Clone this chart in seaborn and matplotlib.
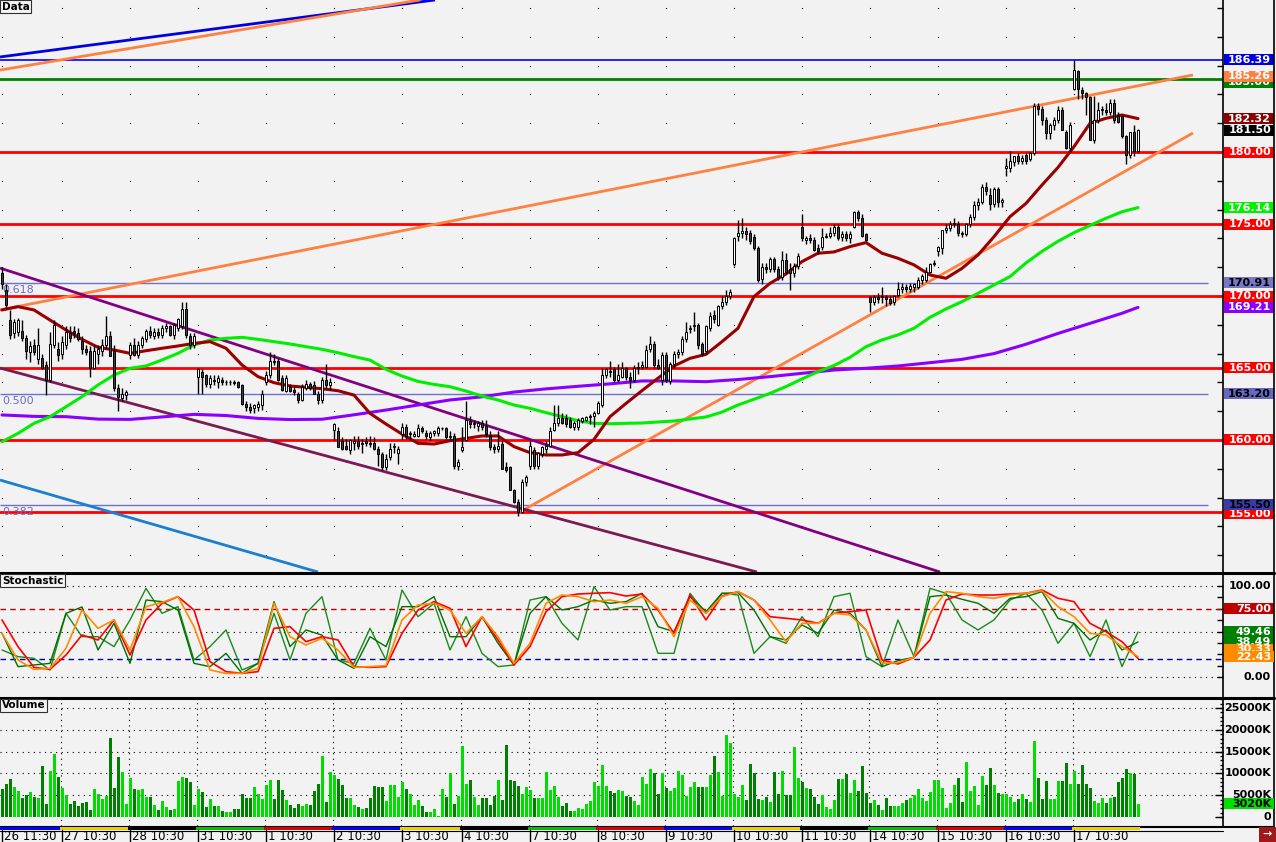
import numpy as np
import pandas as pd
import matplotlib
matplotlib.use("Agg")
import matplotlib.pyplot as plt
import seaborn as sns
from matplotlib.patches import Rectangle
from matplotlib.lines import Line2D

# ---------------- data ----------------
day_labels = ["26 11:30", "27 10:30", "28 10:30", "31 10:30", "1 10:30", "2 10:30", "3 10:30",
              "4 10:30", "7 10:30", "8 10:30", "9 10:30", "10 10:30", "11 10:30", "14 10:30",
              "15 10:30", "16 10:30", "17 10:30"]
day_start = [0, 15, 32, 49, 66, 83, 100, 115, 132, 149, 166, 183, 200, 217, 234, 251, 268]
day_colors = ["#0000ff", "#e8d000", "#000000", "#00c000", "#e00000", "#0000ff", "#e8d000",
              "#000000", "#00c000", "#e00000", "#0000ff", "#e8d000", "#000000", "#00c000",
              "#e00000", "#0000ff", "#e8d000"]

open_ = [
    171.6,170.4,168.3,167.4,167.5,167.6,167.1,166.1,166.6,165.6,165.7,165.2,164.2,166.6,166.3,
    166.0,166.6,167.4,167.6,167.4,166.9,166.3,166.2,165.0,166.0,166.2,166.6,167.2,166.2,163.6,162.9,163.1,
    165.9,166.6,165.9,166.6,167.0,167.6,167.2,167.5,167.3,167.8,167.9,167.3,167.8,167.9,169.1,167.2,166.6,
    164.4,164.7,164.5,163.9,164.2,164.0,164.2,164.0,164.0,164.0,164.05,163.8,162.5,162.3,162.2,162.3,162.4,
    164.0,164.5,165.5,165.5,164.3,163.4,163.7,163.5,163.2,162.8,163.6,163.9,163.8,163.2,162.8,164.2,163.8,
    160.7,160.6,159.9,159.6,159.3,159.8,159.9,159.7,159.9,159.8,159.8,159.4,159.0,158.1,158.8,159.5,159.1,
    160.4,160.9,160.4,160.3,160.3,160.8,160.5,160.2,160.5,160.5,160.8,160.8,160.2,160.3,158.2,
    159.3,160.0,161.3,161.1,161.0,161.2,161.0,160.3,159.5,159.4,159.7,158.1,158.1,156.5,155.7,155.0,157.1,
    158.2,159.3,158.2,159.0,159.4,159.6,160.7,161.2,161.5,161.5,161.4,160.9,160.9,161.3,161.4,161.6,161.7,
    161.9,162.4,164.5,164.8,164.9,164.2,164.4,165.0,164.4,164.2,165.0,165.1,165.1,166.3,166.7,165.2,164.2,
    165.9,164.1,165.3,166.0,166.1,167.0,167.7,167.9,168.0,166.7,166.2,167.8,168.7,168.0,169.3,169.6,170.0,
    172.2,174.2,174.4,174.5,174.4,174.1,173.3,171.2,172.0,171.9,172.6,171.9,171.3,172.5,171.9,171.6,172.1,
    174.8,173.9,174.0,173.9,173.3,173.4,174.1,174.2,174.4,174.8,174.1,174.3,174.0,174.8,175.8,175.4,174.3,
    169.9,169.6,169.9,169.9,169.9,169.8,169.6,170.1,170.5,170.6,170.5,170.6,170.6,171.1,171.1,171.7,172.2,
    173.1,173.3,174.6,174.7,175.0,175.0,174.4,174.3,175.0,175.5,176.3,176.5,177.6,177.0,176.4,177.4,176.5,
    178.9,178.9,179.3,179.7,179.4,179.8,179.5,179.9,183.2,183.0,182.2,181.3,181.9,182.2,182.9,181.4,180.3,
    184.4,185.6,184.3,184.1,183.8,180.8,182.2,182.9,182.9,182.8,183.4,182.5,182.5,181.1,179.8,181.4,180.1]
high = [
    172.0,170.8,169.0,168.4,168.5,168.3,167.3,166.9,167.0,167.8,166.0,165.5,167.5,168.3,166.8,
    167.2,167.9,167.9,167.9,167.8,167.2,166.6,166.5,166.6,166.6,167.0,168.6,167.6,166.6,163.9,163.6,163.5,
    166.8,167.1,166.9,167.2,167.7,167.9,167.8,167.8,168.0,168.1,168.0,168.1,168.5,169.6,169.6,167.4,167.4,
    165.0,164.9,164.6,164.5,164.5,164.5,164.4,164.2,164.2,164.2,164.1,163.9,162.7,162.6,162.5,162.7,163.5,
    164.8,166.1,166.0,165.7,164.5,164.5,163.9,163.7,163.3,163.9,164.2,164.0,164.1,163.4,164.4,165.3,164.3,
    161.2,160.9,160.2,160.1,160.1,160.3,160.3,160.1,160.2,160.3,160.2,159.6,159.2,159.0,159.8,159.8,159.6,
    161.2,161.1,160.6,160.6,161.1,161.0,160.7,160.6,160.7,161.0,160.9,160.9,160.6,160.5,158.7,
    160.9,162.7,161.7,161.4,161.3,161.4,161.4,160.6,159.7,160.6,159.9,158.5,158.2,156.6,155.9,157.3,157.6,
    159.9,159.5,159.2,159.6,159.9,160.9,162.4,162.4,161.9,161.8,161.6,161.3,161.5,161.6,161.7,161.8,162.0,
    162.7,165.0,165.0,165.5,165.1,165.3,165.4,165.1,164.7,165.2,165.4,165.5,166.6,167.2,166.9,165.6,166.1,
    166.1,165.4,166.2,166.3,167.2,168.2,168.0,168.9,168.1,166.8,168.0,168.9,169.0,169.4,170.0,170.4,170.5,
    174.1,175.3,175.4,174.8,174.6,174.3,173.5,172.3,172.3,172.7,172.7,172.1,173.1,173.0,172.3,172.3,173.0,
    175.7,174.2,174.3,174.1,173.6,174.7,174.4,174.8,175.0,175.0,174.5,174.5,174.5,175.9,176.0,175.7,174.4,
    170.0,170.1,170.2,170.6,170.1,170.0,170.1,171.0,170.9,170.8,170.9,170.9,171.3,171.5,172.0,172.3,172.5,
    173.5,174.6,175.0,175.2,175.4,175.2,174.5,175.1,175.7,176.6,176.8,177.8,177.9,177.5,177.6,177.6,176.8,
    179.6,180.1,179.7,179.9,179.8,179.9,180.0,183.4,183.4,183.2,182.4,182.0,182.4,183.2,183.1,181.5,182.1,
    186.39,185.7,184.5,184.2,183.9,183.9,183.5,183.2,183.4,183.7,183.7,182.8,182.6,181.2,181.4,181.9,181.6]
low = [
    170.5,169.2,167.0,167.1,167.2,166.9,165.6,165.4,165.9,165.3,164.9,163.1,164.0,166.4,165.5,
    165.6,166.3,166.8,167.1,166.9,166.0,165.9,164.4,164.9,165.3,165.8,166.4,165.8,163.4,162.0,162.7,162.8,
    165.6,165.8,165.7,166.4,166.8,167.1,167.0,167.1,167.1,167.5,167.2,167.0,167.6,167.7,167.1,166.3,166.4,
    163.2,163.2,163.7,163.6,163.8,163.6,163.8,163.8,163.8,163.8,163.6,162.4,162.0,161.9,161.9,162.0,162.1,
    163.8,164.3,165.2,164.1,163.4,163.3,163.3,163.1,162.6,162.7,163.5,163.5,163.2,162.5,162.6,163.6,163.5,
    160.0,159.5,159.3,159.3,159.0,159.3,159.4,159.1,159.6,159.5,159.3,158.2,157.9,157.9,158.6,159.1,158.3,
    160.1,160.1,160.0,160.2,160.2,160.5,160.1,160.0,160.3,160.3,160.7,160.1,160.0,158.0,157.9,
    159.2,159.9,160.8,160.8,160.6,160.7,160.2,159.3,159.1,159.2,158.0,157.8,156.5,155.6,154.7,154.9,156.8,
    158.0,158.0,158.0,158.8,159.1,159.5,160.6,161.0,161.1,160.9,160.8,160.7,160.7,161.2,161.3,161.1,160.9,
    161.8,162.3,164.3,164.4,164.0,164.0,164.3,164.2,163.6,164.0,164.6,164.9,165.0,166.1,165.0,164.9,163.8,
    164.0,163.9,165.0,165.7,165.9,166.8,167.4,167.6,166.3,165.8,166.0,167.6,168.1,167.9,169.1,169.4,169.8,
    172.1,173.8,174.0,173.9,173.6,173.2,171.0,170.8,171.6,171.7,171.7,171.1,171.1,171.6,170.4,171.3,171.9,
    173.8,173.6,173.7,173.1,172.9,173.2,174.0,174.0,174.2,173.9,173.8,173.8,173.7,174.7,175.2,174.1,173.8,
    168.9,169.4,169.5,169.5,169.3,169.4,169.4,169.9,170.2,170.3,170.3,170.3,170.5,170.8,171.0,171.6,172.1,
    172.8,172.9,174.4,174.5,174.8,174.2,174.1,174.2,174.8,175.3,176.0,176.4,177.0,176.0,176.2,176.2,176.2,
    178.3,178.6,179.0,179.2,179.2,179.2,179.4,179.8,182.6,181.9,180.9,180.9,181.5,182.0,181.5,180.2,180.1,
    184.3,183.7,183.7,182.6,180.8,180.6,182.0,182.6,182.6,182.6,182.0,182.0,181.0,179.2,179.6,179.7,179.9]
close = [
    170.8,169.4,167.3,168.2,168.3,167.1,166.2,166.5,166.1,166.6,165.0,164.2,166.7,168.0,165.9,
    166.8,167.5,167.1,167.4,167.0,166.3,166.1,165.0,166.2,166.3,166.6,167.2,165.8,163.6,163.0,163.2,163.3,
    166.6,165.9,166.6,167.1,167.6,167.3,167.5,167.3,167.8,167.9,167.3,168.0,168.4,169.1,167.3,166.6,167.2,
    164.9,164.4,163.9,164.3,164.1,164.3,164.0,164.0,164.05,163.95,163.7,162.5,162.3,162.1,162.4,162.5,163.2,
    164.5,165.5,165.4,164.2,163.5,164.3,163.4,163.3,162.8,163.7,163.9,163.6,163.2,162.8,164.2,163.8,164.0,
    161.1,159.5,159.4,159.4,160.0,159.9,159.6,159.8,159.8,159.7,159.4,159.0,158.1,158.7,159.4,159.6,159.4,
    160.9,160.3,160.5,160.4,160.8,160.6,160.3,160.5,160.6,160.8,160.85,160.2,160.3,158.2,158.5,
    159.5,161.4,161.1,161.1,161.2,160.9,160.4,159.5,159.4,159.6,158.0,157.9,156.5,155.7,155.0,157.1,157.4,
    159.6,158.2,159.1,159.5,159.6,160.6,161.2,161.5,161.2,161.1,160.9,161.2,161.4,161.5,161.6,161.7,161.9,
    162.6,164.5,164.9,164.7,164.2,164.5,165.0,164.4,164.2,165.0,165.1,165.2,166.25,166.7,165.2,165.0,165.9,
    164.2,165.3,166.0,166.1,167.0,167.5,167.8,168.0,166.6,166.0,167.9,168.6,168.4,169.3,169.6,170.0,170.3,
    174.0,174.4,174.5,174.3,173.8,173.3,171.1,172.0,171.9,172.6,171.9,171.3,172.5,171.7,171.6,172.1,172.8,
    174.0,174.0,173.9,173.2,173.1,174.1,174.2,174.4,174.8,174.0,174.3,174.0,174.3,175.8,175.4,174.2,173.9,
    169.6,169.9,169.8,170.0,169.8,169.5,170.0,170.5,170.6,170.5,170.7,170.8,171.1,171.4,171.7,172.2,172.3,
    173.4,174.6,174.7,175.0,175.1,174.4,174.3,175.0,175.5,176.3,176.5,177.6,177.3,176.4,177.4,176.5,176.7,
    179.0,179.4,179.7,179.4,179.6,179.4,179.9,183.2,183.0,182.2,181.3,181.9,182.2,182.9,181.5,180.3,181.9,
    185.7,184.4,184.1,183.8,180.8,182.2,182.9,182.9,182.8,183.4,182.2,182.1,181.1,179.8,181.4,180.1,181.5]
volume_k = [
    6460,7540,8770,6920,6000,4460,5080,5770,4690,4460,11770,3000,10620,14540,9230,
    6690,5150,3000,3690,2540,3150,3460,1620,6460,5310,4230,4850,18230,6690,13850,10380,3000,
    9000,6460,6080,6460,4620,4620,2770,1620,3690,2310,1690,1920,8230,9230,9000,8080,2770,
    6460,5770,2310,4230,2540,2540,1460,1150,1150,1850,1850,5310,4460,4460,6920,5310,4230,
    7380,8540,4230,8540,6230,3920,2770,2080,3000,2540,3000,2770,6000,7620,14080,3460,10380,
    9690,8770,7380,4460,4460,2770,2380,1850,2080,4380,7150,6920,
    6800,3660,7250,7250,4580,8020,6410,5270,2750,3970,
    2440,1150,1150,1830,300,6410,4580,10000,2980,4810,
    16260,7560,8470,4660,2750,4350,4350,2750,4810,8470,
    3890,16490,8470,8240,7100,5270,6870,6180,4350,4350,
    4350,10310,6180,7100,4580,2520,3210,1370,1370,2060,
    1830,2980,3660,8020,7100,11910,7100,5880,5500,6180,
    5950,4810,4580,3660,2750,9160,7560,10990,10080,5270,
    10080,6640,5950,6640,10530,9620,4810,6870,8020,6870,
    6870,6870,9620,13970,10310,4810,18780,16950,5270,4580,
    7330,3890,12140,10080,4120,3890,4580,3440,10310,5270,
    10530,5040,5040,16030,8930,8020,6640,6410,4580,2980,
    5040,2290,1830,3890,8700,8700,9850,5500,8470,5950,
    11680,5500,3210,3890,2750,1600,4350,2520,2520,2520,
    3210,3890,4350,5040,6410,4350,3660,5730,8470,8470,
    6640,2060,3210,7330,8930,3440,12600,5950,7100,2750,
    9390,7330,11220,7330,5500,5270,5270,4580,3440,4120,
    5270,4120,3440,17400,8930,4120,8240,4120,4120,8240,
    8240,12370,7560,10530,7560,11910,7560,6640,3660,3210,
    4350,3210,4350,4580,8020,8930,10990,10080,9850,3020]

ma_idx4 = list(range(0, 285, 4))
ma_red = [169.03,169.26,169.03,168.33,167.64,166.99,166.44,166.25,166.02,166.2,
          166.37,166.53,166.71,166.83,166.37,165.21,164.4,163.98,163.75,163.66,
          163.56,163.42,163.12,161.85,161.11,160.41,159.77,159.72,159.95,160.11,
          160.28,160.28,159.54,159.12,158.96,158.96,159.12,160.04,161.62,162.54,
          163.43,164.29,165.14,165.67,165.95,166.83,167.76,169.96,170.88,171.53,
          172.39,172.97,173.06,173.43,173.71,172.97,172.62,172.16,171.46,171.23,
          171.92,172.85,174.12,175.51,176.43,177.71,178.93,180.37,181.99,182.34,
          182.57,182.32]
ma_green = [159.88,160.46,161.16,161.62,162.31,163.01,163.82,164.51,164.98,165.14,
            165.56,166.02,166.6,166.94,167.06,167.13,166.99,166.83,166.67,166.48,
            166.3,166.06,165.79,165.55,164.91,164.44,164.07,163.86,163.7,163.4,
            163.05,162.78,162.43,162.2,161.9,161.62,161.34,161.16,161.13,161.16,
            161.18,161.25,161.32,161.46,161.6,161.94,162.43,162.83,163.24,163.71,
            164.24,164.75,165.17,165.74,166.48,166.95,167.3,167.76,168.52,169.1,
            169.61,170.19,170.77,171.35,172.3,173.1,173.8,174.4,174.9,175.4,
            175.85,176.14]
ma_idx8 = list(range(0, 285, 8)) + [284]
ma_purple = [161.74,161.64,161.62,161.45,161.43,161.6,161.78,161.7,161.5,161.42,
             161.44,161.75,162.08,162.43,162.78,163.0,163.33,163.55,163.73,163.9,
             164.1,164.1,164.05,164.2,164.4,164.63,164.86,164.98,165.14,165.37,
             165.6,166.0,166.65,167.4,168.1,168.8,169.21]

sto_idx = list(range(0, 285, 4))
sto_fast = [29.7,22.4,20.5,7.7,70,44.3,44.3,33.4,62.7,97.4,70,77.3,18.7,33.4,51.7,7.7,15,70,
            18.7,70,88.3,18.7,15,53.5,18.7,
            95.6,66.3,81,29.7,66.3,26,11.4,13.2,84.6,88.3,59,40.7,99.3,73.6,77.3,77.3,26,26,
            92,70,92,90.1,26,44.3,37,66.3,44.3,88.3,92,22.4,11.4,62.7,22.4,97.4,92,62.7,51.7,
            62.7,84.6,92,73.6,37,59,22.4,62.7,11.4,49.46]
sto_slow = [48,11.4,13.2,15,70,77,29.7,59,15,84.6,82.8,73.6,15,11.4,26,4,15,82.8,33.4,51.7,
            46,18.7,9.5,44.3,33.4,
            77.3,77.3,88.3,44.3,44.3,66.3,37,13.2,70,88.3,73.6,77.3,84.6,81,82.8,92,55.3,49.8,
            88.3,71.8,92,92.7,73.6,44.3,40.7,57.2,48,73.6,70,51.7,11.4,18,21.6,88.3,90.1,85.4,
            81,70,86.5,88.3,93.8,64.5,59,40.7,51.7,29.7,38.49]
sto_red = [62.7,33.4,10.6,8.4,24.2,46.2,40.7,62.7,24.2,62.7,81,88.3,73.6,16.9,5.9,4,5.9,53.5,
           55.3,38.8,44.3,40.7,11.4,10.6,11.4,
           48,73.6,82.8,75.5,33.4,66.3,40.7,13.2,33.4,71.8,88.3,91.2,92,92.7,89,91.2,73.6,48,
           90.1,62.7,89,93.8,84.6,66.3,64.5,62.7,59,70,71.8,73.6,18.7,14.3,21.6,40.7,84.6,91.2,
           90.1,90.1,91.2,92,95.6,86.5,82.8,59,49.8,38.8,20.5]
sto_orange = [48,18.7,8.4,9.5,31.5,73.6,53.5,62.7,29.7,77.3,82,88.3,55.3,7.7,4,4,9.5,81,44.3,
              35.2,42.5,29.7,10.6,11.4,12.5,
              62.7,79.1,81,73.6,48,66.3,44.3,15,37,81,90.1,88.3,82.8,84.6,81,88.3,75.5,44.3,
              84.6,70,88.3,93.8,84.6,62.7,38.8,59,59,70,68.2,51.7,15,15.8,21.6,70,93.8,92,88.3,
              86.5,90.1,92,94.9,77.3,66.3,48,46.2,33.4,22.43]

red_levels = [180, 175, 170, 165, 160, 155]
fib_levels = [170.91, 163.20, 155.50]
fib_names = ["0.618", "0.500", "0.382"]
blue_level = 186.39
green_level = 185.06

tl_x0 = [-0.5, -0.5, -0.5, 129.5, -0.5, -0.5, -0.5]
tl_y0 = [186.60, 185.69, 169.03, 155.00, 171.94, 165.00, 157.22]
tl_x1 = [108.25, 104.5, 297.75, 297.75, 234.5, 188.75, 79.0]
tl_y1 = [190.56, 190.56, 185.35, 181.32, 150.83, 150.83, 150.83]
tl_col = ["#0000e0", "#ff8040", "#ff8040", "#ff8040", "#800080", "#7a1a50", "#1a7fd0"]

# ---------------- style ----------------
BG = "#f2f2f2"
sns.set_theme(style="white", rc={"axes.facecolor": BG, "figure.facecolor": BG})
plt.rcParams["font.family"] = ["DejaVu Sans"]

W, H = 1276, 842
fig = plt.figure(figsize=(W / 100, H / 100), dpi=100, facecolor=BG)


def fa(x0, y0, x1, y1):
    return [x0 / W, 1 - y1 / H, (x1 - x0) / W, (y1 - y0) / H]


ax_m = fig.add_axes(fa(0, 0, 1223, 572))
ax_s = fig.add_axes(fa(0, 574, 1223, 697))
ax_v = fig.add_axes(fa(0, 699, 1223, 826))
XL = (-0.5, 305.25)
for a in (ax_m, ax_s, ax_v):
    a.set_facecolor(BG)
    a.set_xlim(*XL)
    for s in ("left", "top", "bottom"):
        a.spines[s].set_visible(False)
    a.spines["right"].set_color("black")
    a.spines["right"].set_linewidth(1.2)
    a.set_xticks([])
    a.yaxis.set_ticks_position("right")
    a.tick_params(axis="y", direction="in", length=4, width=1, color="black",
                  labelright=False, labelleft=False)
ax_m.set_ylim(150.833, 190.556)
ax_s.set_ylim(-21.98, 113.19)
ax_v.set_ylim(-2064, 27064)
ax_m.set_yticks(np.arange(152, 191, 2))
ax_s.set_yticks(np.arange(0, 101, 12.5))
ax_v.set_yticks(np.arange(0, 27001, 1000))

idx = np.arange(len(close))
o = np.array(open_); c = np.array(close); hi = np.array(high); lo = np.array(low)
up = c >= o

# ---- main panel ----
for d in day_start:
    ax_m.plot([d] * 20, np.arange(152, 191, 2), ls="none", marker="s", ms=0.8,
              mew=0, color="black", zorder=1)
ax_m.axhline(blue_level, color="#0000ff", lw=1.2, zorder=2)
ax_m.axhline(green_level, color="#008000", lw=2.0, zorder=2)
for lv in red_levels:
    ax_m.axhline(lv, color="#ff0000", lw=2.0, zorder=2)
for lv, nm in zip(fib_levels, fib_names):
    ax_m.hlines(lv, -0.5, 301.5, color="#6f6fd0", lw=1.0, zorder=2)
    ax_m.annotate(nm, (0.002, lv), xycoords=("axes fraction", "data"),
                  xytext=(0, -1.5), textcoords="offset points", va="top", ha="left",
                  fontsize=8, color="#6a6ac8", zorder=2)
for x0, y0, x1, y1, col in zip(tl_x0, tl_y0, tl_x1, tl_y1, tl_col):
    ax_m.plot([x0, x1], [y0, y1], color=col, lw=2.0, zorder=3, solid_capstyle="butt")

sns.lineplot(x=ma_idx8, y=ma_purple, ax=ax_m, color="#8a00ff", lw=2.2, zorder=4, legend=False)
sns.lineplot(x=ma_idx4, y=ma_green, ax=ax_m, color="#00ee00", lw=2.2, zorder=4, legend=False)
sns.lineplot(x=ma_idx4, y=ma_red, ax=ax_m, color="#990000", lw=2.2, zorder=4, legend=False)

ax_m.vlines(idx, np.minimum(lo, np.minimum(o, c)), np.maximum(hi, np.maximum(o, c)),
            color="black", lw=1.0, zorder=5)
body_lo = np.minimum(o, c)
body_h = np.maximum(np.abs(c - o), 0.06)
ax_m.bar(idx, body_h, bottom=body_lo, width=0.7,
         color=np.where(up, "#ffffff", "#404040"), edgecolor="black", lw=0.7, zorder=6)

# ---- stochastic panel ----
for lv in (100, 50, 0):
    ax_s.axhline(lv, color="black", lw=0.8, ls=(0, (1, 4)), zorder=1)
ax_s.axhline(75, color="#c00000", lw=1.0, ls=(0, (4, 3)), zorder=1)
ax_s.axhline(20, color="#0000a0", lw=1.0, ls=(0, (4, 3)), zorder=1)
sns.lineplot(x=sto_idx, y=sto_fast, ax=ax_s, color="#1a8a1a", lw=1.0, zorder=3, legend=False)
sns.lineplot(x=sto_idx, y=sto_slow, ax=ax_s, color="#007000", lw=1.0, zorder=3, legend=False)
sns.lineplot(x=sto_idx, y=sto_red, ax=ax_s, color="#ff0000", lw=1.2, zorder=3, legend=False)
sns.lineplot(x=sto_idx, y=sto_orange, ax=ax_s, color="#ff8c00", lw=1.2, zorder=3, legend=False)

# ---- volume panel ----
for lv in range(5000, 25001, 5000):
    ax_v.axhline(lv, color="black", lw=0.8, ls=(0, (1, 4)), zorder=1)
for d in day_start[1:]:
    ax_v.axvline(d - 0.25, color="black", lw=0.8, ls=(0, (1, 4)), zorder=1)
ax_v.bar(idx, volume_k, width=0.75, color=np.where(up, "#00dd00", "#008000"), lw=0, zorder=2)
ax_v.tick_params(axis="y", which="major", length=2)
for lv in range(0, 25001, 5000):
    ax_v.plot([1.0], [lv], transform=ax_v.get_yaxis_transform(), marker=0, ms=6,
              color="black", clip_on=False)

# ---------------- right-hand labels ----------------
zc = [20]


def box_label(ax, val, text, fc, tc="white", dy=0, h=11):
    yd = ax.transData.transform((0, val))[1]
    yp = H - yd + dy
    zc[0] += 2
    fig.add_artist(Rectangle((1224 / W, 1 - (yp + h / 2) / H), 50 / W, h / H,
                             transform=fig.transFigure, fc=fc, ec="none", zorder=zc[0]))
    fig.text(1271 / W, 1 - yp / H, text, ha="right", va="center", color=tc,
             fontsize=8, fontweight="bold", zorder=zc[0] + 1)


def plain_label(ax, val, text):
    yd = ax.transData.transform((0, val))[1]
    fig.text(1271 / W, yd / H, text, ha="right", va="center", color="black",
             fontsize=8, fontweight="bold", zorder=5)


box_label(ax_m, 186.39, "186.39", "#0000e0")
box_label(ax_m, green_level, "185.06", "#008000", dy=3)
box_label(ax_m, 185.26, "185.26", "#ff8040")
box_label(ax_m, 182.32, "182.32", "#8b0000")
box_label(ax_m, 181.50, "181.50", "#000000")
box_label(ax_m, 180.00, "180.00", "#ff0000")
box_label(ax_m, 176.14, "176.14", "#00f000")
box_label(ax_m, 175.00, "175.00", "#ff0000")
box_label(ax_m, 170.91, "170.91", "#7878c8", tc="black")
box_label(ax_m, 170.00, "170.00", "#ff0000")
box_label(ax_m, 169.21, "169.21", "#8a00ff")
box_label(ax_m, 165.00, "165.00", "#ff0000")
box_label(ax_m, 163.20, "163.20", "#6868c0", tc="black")
box_label(ax_m, 160.00, "160.00", "#ff0000")
box_label(ax_m, 155.00, "155.00", "#ff0000", dy=2)
box_label(ax_m, 155.50, "155.50", "#3a3aa8", tc="black")

plain_label(ax_s, 100, "100.00")
plain_label(ax_s, 0, "0.00")
box_label(ax_s, 75, "75.00", "#c00000")
box_label(ax_s, 49.46, "49.46", "#008000")
box_label(ax_s, 38.49, "38.49", "#008000")
box_label(ax_s, 30.33, "30.33", "#ff8c00")
box_label(ax_s, 22.43, "22.43", "#ff8c00")

for lv in range(5000, 25001, 5000):
    plain_label(ax_v, lv, f"{lv // 1000}000K")
plain_label(ax_v, 0, "0")
box_label(ax_v, 3020, "3020K", "#00e000", tc="black")

# ---------------- separators / frame ----------------
for yp, lw in ((572.5, 2.2), (697.5, 2.2), (826.5, 1.5)):
    fig.add_artist(Line2D([0, 1274 / W], [1 - yp / H] * 2, transform=fig.transFigure,
                          color="black", lw=lw, zorder=60))
fig.add_artist(Line2D([1274 / W] * 2, [1 - 826 / H, 1], transform=fig.transFigure,
                      color="black", lw=1.2, zorder=60))

# day strip, ticks and labels
def xfig(xd):
    return fig.transFigure.inverted().transform(ax_v.transData.transform((xd, 0)))[0]

ends = day_start[1:] + [284.5 + 0.5]
for s, e, col, lab in zip(day_start, ends, day_colors, day_labels):
    x0 = xfig(s - 0.5)
    x1 = xfig(e - 0.5)
    fig.add_artist(Rectangle((x0, 1 - 830 / H), x1 - x0, 3 / H, transform=fig.transFigure,
                             fc=col, ec="none", zorder=61))
    xt = xfig(s)
    fig.add_artist(Line2D([xt, xt], [0, 1 - 830 / H], transform=fig.transFigure,
                          color="black", lw=1.0, zorder=61))
    fig.text(xt + 2 / W, 1 - 836 / H, lab, ha="left", va="center", fontsize=8.5,
             color="black", zorder=61)
fig.add_artist(Line2D([0, 1223 / W], [1 - 830.5 / H] * 2, transform=fig.transFigure,
                      color="black", lw=0.8, zorder=60))

# corner icon
fig.add_artist(Rectangle((1259 / W, 0), 17 / W, 15 / H, transform=fig.transFigure,
                         fc="#a01818", ec="none", zorder=62))
fig.text(1267.5 / W, 7.5 / H, "→", ha="center", va="center", color="white",
         fontsize=8, fontweight="bold", zorder=63)

# panel titles
for txt, yp in (("Data", 6.5), ("Stochastic", 580.5), ("Volume", 705.5)):
    fig.text(2 / W, 1 - yp / H, txt, ha="left", va="center", fontsize=7.5, fontweight="bold",
             color="black", zorder=70,
             bbox=dict(boxstyle="square,pad=0.15", fc="#f4f4f4", ec="#303030", lw=0.8))

fig.savefig("out.png", dpi=100, facecolor=BG)
